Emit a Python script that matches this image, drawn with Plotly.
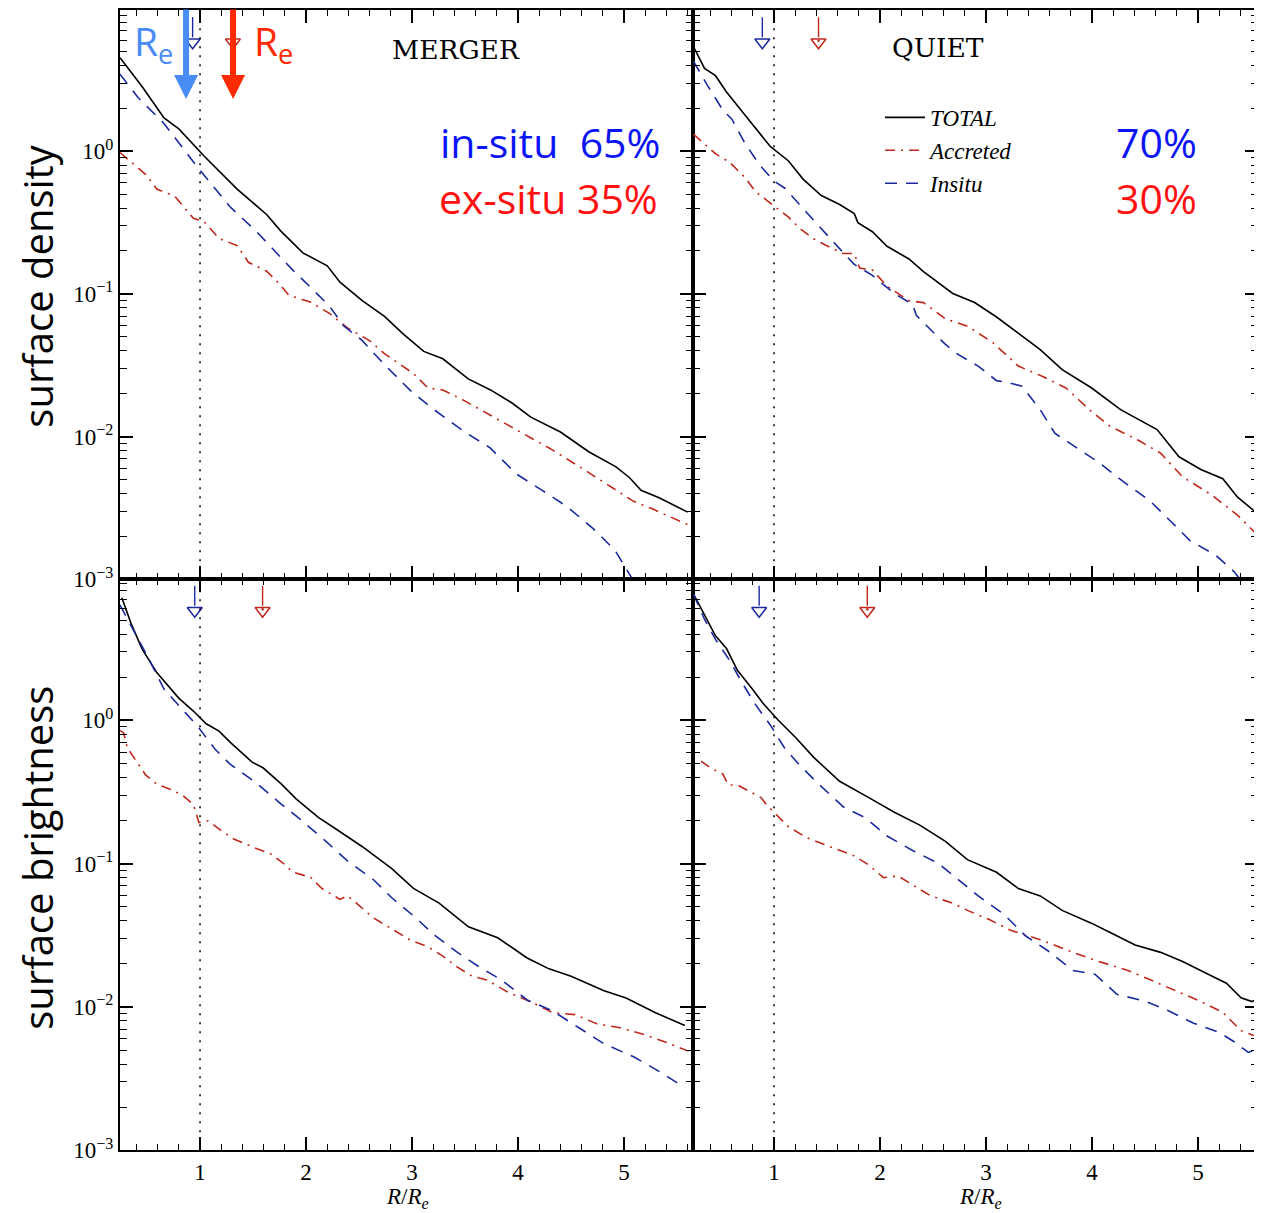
import numpy as np
import plotly.graph_objects as go

# ---------------- DATA (log10 of profile values) ----------------
# MERGER - surface density
md_tot_x = [0.245,0.453,0.66,0.80,1.04,1.35,1.63,1.76,1.97,2.20,2.32,2.53,2.74,2.91,3.11,3.29,3.53,3.74,3.94,4.12,4.40,4.67,4.92,5.05,5.16,5.33,5.60]
md_tot_y = [0.656,0.454,0.234,0.157,-0.035,-0.265,-0.445,-0.558,-0.712,-0.803,-0.918,-1.047,-1.158,-1.277,-1.403,-1.455,-1.596,-1.673,-1.763,-1.864,-1.968,-2.108,-2.211,-2.287,-2.377,-2.429,-2.530]
md_ins_x = [0.245,0.415,0.66,0.989,1.285,1.526,1.66,1.868,2.045,2.217,2.356,2.528,2.736,2.978,3.186,3.497,3.736,3.981,4.224,4.462,4.708,4.915,5.02,5.12]
md_ins_y = [0.541,0.377,0.195,-0.124,-0.391,-0.558,-0.663,-0.828,-0.956,-1.082,-1.225,-1.326,-1.493,-1.673,-1.800,-1.968,-2.079,-2.261,-2.376,-2.491,-2.645,-2.798,-2.927,-3.05]
md_acc_x = [0.245,0.349,0.488,0.592,0.764,0.937,1.041,1.179,1.352,1.456,1.629,1.733,1.837,2.045,2.217,2.391,2.598,2.736,3.013,3.151,3.29,3.497,3.74,4.016,4.327,4.604,4.846,5.089,5.261,5.608]
md_acc_y = [-0.009,-0.073,-0.163,-0.265,-0.317,-0.470,-0.495,-0.611,-0.662,-0.778,-0.841,-0.918,-1.008,-1.059,-1.135,-1.238,-1.327,-1.417,-1.558,-1.660,-1.673,-1.750,-1.852,-1.967,-2.095,-2.223,-2.338,-2.454,-2.505,-2.620]

# QUIET - surface density
qd_tot_x = [0.24,0.345,0.448,0.552,0.758,0.965,1.137,1.274,1.446,1.619,1.757,1.791,1.928,2.066,2.273,2.410,2.686,2.892,3.099,3.305,3.511,3.718,3.993,4.269,4.613,4.820,5.026,5.233,5.370,5.576]
qd_tot_y = [0.734,0.581,0.530,0.416,0.225,0.034,-0.068,-0.195,-0.310,-0.373,-0.437,-0.500,-0.564,-0.666,-0.755,-0.844,-0.997,-1.060,-1.162,-1.277,-1.391,-1.531,-1.658,-1.811,-1.951,-2.142,-2.231,-2.296,-2.423,-2.550]
qd_ins_x = [0.24,0.379,0.517,0.603,0.724,0.861,0.999,1.103,1.240,1.377,1.550,1.757,1.928,2.135,2.307,2.342,2.444,2.617,2.720,2.926,3.099,3.202,3.340,3.511,3.649,3.856,4.062,4.304,4.544,4.751,4.923,5.164,5.336,5.45]
qd_ins_y = [0.632,0.454,0.289,0.225,0.059,-0.093,-0.208,-0.259,-0.373,-0.488,-0.628,-0.793,-0.870,-0.997,-1.073,-1.150,-1.226,-1.354,-1.417,-1.506,-1.608,-1.621,-1.647,-1.812,-1.977,-2.080,-2.181,-2.321,-2.449,-2.601,-2.729,-2.831,-2.945,-3.05]
qd_acc_x = [0.24,0.311,0.448,0.586,0.724,0.827,0.999,1.137,1.240,1.377,1.508,1.653,1.757,1.808,1.928,2.066,2.273,2.410,2.617,2.824,3.064,3.305,3.546,3.753,3.993,4.166,4.441,4.647,4.854,5.129,5.370,5.576]
qd_acc_y = [0.12,0.073,-0.017,-0.080,-0.182,-0.284,-0.386,-0.462,-0.539,-0.615,-0.666,-0.717,-0.717,-0.819,-0.832,-0.946,-1.048,-1.061,-1.175,-1.226,-1.341,-1.506,-1.583,-1.659,-1.824,-1.926,-2.028,-2.117,-2.283,-2.410,-2.550,-2.703]

# MERGER - surface brightness
mb_tot_x = [0.262,0.349,0.453,0.592,0.799,0.937,1.058,1.179,1.283,1.491,1.594,1.768,1.906,2.113,2.321,2.528,2.667,2.806,3.013,3.255,3.532,3.808,4.085,4.292,4.5,4.811,5.019,5.296,5.573]
mb_tot_y = [0.856,0.677,0.499,0.333,0.155,0.065,-0.024,-0.075,-0.152,-0.292,-0.331,-0.445,-0.548,-0.675,-0.777,-0.880,-0.956,-1.033,-1.173,-1.275,-1.441,-1.517,-1.658,-1.734,-1.785,-1.887,-1.938,-2.040,-2.129]
mb_ins_x = [0.245,0.384,0.522,0.660,0.799,0.972,1.144,1.283,1.525,1.768,1.941,2.183,2.391,2.632,2.806,3.013,3.221,3.428,3.636,3.843,4.085,4.327,4.570,4.811,5.089,5.330,5.573]
mb_ins_y = [0.805,0.614,0.422,0.218,0.103,-0.037,-0.203,-0.305,-0.433,-0.586,-0.688,-0.841,-0.981,-1.109,-1.236,-1.364,-1.504,-1.619,-1.722,-1.811,-1.951,-2.028,-2.143,-2.257,-2.347,-2.449,-2.564]
mb_acc_x = [0.245,0.280,0.314,0.384,0.488,0.592,0.729,0.833,0.937,0.989,1.075,1.214,1.318,1.525,1.663,1.802,1.871,2.044,2.148,2.321,2.391,2.494,2.632,2.806,2.978,3.151,3.290,3.428,3.566,3.705,3.912,4.120,4.327,4.535,4.742,4.950,5.192,5.434,5.608]
mb_acc_y = [-0.07,-0.088,-0.191,-0.267,-0.382,-0.445,-0.484,-0.522,-0.586,-0.713,-0.701,-0.777,-0.828,-0.892,-0.930,-1.007,-1.058,-1.096,-1.173,-1.249,-1.224,-1.287,-1.377,-1.454,-1.531,-1.581,-1.645,-1.722,-1.785,-1.811,-1.900,-1.964,-2.040,-2.053,-2.117,-2.143,-2.193,-2.257,-2.308]

# QUIET - surface brightness
qb_tot_x = [0.24,0.345,0.448,0.552,0.655,0.792,0.896,1.034,1.206,1.377,1.619,1.894,2.135,2.375,2.617,2.824,3.099,3.305,3.511,3.718,3.993,4.166,4.406,4.647,4.854,5.095,5.267,5.405,5.508,5.57]
qb_tot_y = [0.882,0.730,0.590,0.501,0.349,0.222,0.120,0.006,-0.121,-0.260,-0.425,-0.539,-0.641,-0.731,-0.844,-0.972,-1.060,-1.174,-1.225,-1.326,-1.415,-1.479,-1.568,-1.619,-1.682,-1.771,-1.834,-1.936,-1.962,-1.94]
qb_ins_x = [0.24,0.345,0.448,0.586,0.690,0.827,0.965,1.103,1.240,1.412,1.653,1.859,2.066,2.307,2.548,2.755,2.926,3.167,3.374,3.580,3.821,4.027,4.234,4.509,4.716,4.958,5.198,5.336,5.474,5.57]
qb_ins_y = [0.882,0.704,0.565,0.413,0.273,0.108,-0.032,-0.197,-0.311,-0.438,-0.603,-0.679,-0.807,-0.908,-0.997,-1.124,-1.225,-1.352,-1.505,-1.606,-1.746,-1.771,-1.911,-1.962,-2.025,-2.113,-2.177,-2.241,-2.317,-2.292]
qb_acc_x = [0.311,0.414,0.517,0.569,0.655,0.758,0.878,0.930,0.999,1.137,1.308,1.481,1.619,1.757,1.894,2.032,2.170,2.342,2.479,2.686,2.824,3.030,3.236,3.511,3.821,4.062,4.338,4.544,4.786,5.026,5.233,5.405,5.542]
qb_acc_y = [-0.285,-0.337,-0.374,-0.451,-0.451,-0.489,-0.539,-0.590,-0.641,-0.743,-0.819,-0.870,-0.908,-0.946,-1.009,-1.098,-1.086,-1.162,-1.225,-1.276,-1.326,-1.390,-1.466,-1.530,-1.619,-1.682,-1.745,-1.809,-1.885,-1.962,-2.038,-2.165,-2.203]

# half-light radii markers (R/Re) for in-situ and accreted: [MERGER dens, QUIET dens, MERGER bright, QUIET bright]
re_insitu = [0.93, 0.89, 0.95, 0.86]
re_accreted = [1.31, 1.42, 1.59, 1.88]

panel_titles = ["MERGER", "QUIET"]
y_tick_vals = [1e-3, 1e-2, 1e-1, 1.0]
y_tick_text = ["10<sup>−3</sup>", "10<sup>−2</sup>", "10<sup>−1</sup>", "10<sup>0</sup>"]
x_tick_vals = [1, 2, 3, 4, 5]

# ---------------- STYLE ----------------
BLACK = "#000000"
RED = "#c0281c"
BLUE = "#1a2a9e"
SERIF = "Liberation Serif"
SANS = "Open Sans"

# page body has an 8px default margin; observed vertical photo scale ~0.99
W, H = 1254, 1213
OFF = 8
VS = 0.99


def px(X):
    return (X - OFF) / W


def py(Y):
    return 1 - (Y / VS - OFF) / H


panels = [
    ("x", "y", md_tot_x, md_tot_y, md_acc_x, md_acc_y, md_ins_x, md_ins_y),
    ("x2", "y2", qd_tot_x, qd_tot_y, qd_acc_x, qd_acc_y, qd_ins_x, qd_ins_y),
    ("x3", "y3", mb_tot_x, mb_tot_y, mb_acc_x, mb_acc_y, mb_ins_x, mb_ins_y),
    ("x4", "y4", qb_tot_x, qb_tot_y, qb_acc_x, qb_acc_y, qb_ins_x, qb_ins_y),
]

fig = go.Figure()
for i, (xa, ya, tx, ty, ax_, ay_, ix, iy) in enumerate(panels):
    show = (i == 1)
    fig.add_trace(go.Scatter(x=tx, y=10 ** np.array(ty), mode="lines", name="TOTAL",
                             line=dict(color=BLACK, width=1.6), xaxis=xa, yaxis=ya,
                             showlegend=show, legendgroup="t", hoverinfo="skip"))
    fig.add_trace(go.Scatter(x=ax_, y=10 ** np.array(ay_), mode="lines", name="Accreted",
                             line=dict(color=RED, width=1.6, dash="10px,6px,2px,6px"), xaxis=xa, yaxis=ya,
                             showlegend=show, legendgroup="a", hoverinfo="skip"))
    fig.add_trace(go.Scatter(x=ix, y=10 ** np.array(iy), mode="lines", name="Insitu",
                             line=dict(color=BLUE, width=1.6, dash="12px,9px"), xaxis=xa, yaxis=ya,
                             showlegend=show, legendgroup="i", hoverinfo="skip"))
    # Re markers
    for rv, col, dot in ((re_insitu[i], BLUE, False), (re_accreted[i], RED, True)):
        fig.add_trace(go.Scatter(x=[rv, rv], y=[10 ** 0.94, 10 ** 0.80], mode="lines",
                                 line=dict(color=col, width=1.4), xaxis=xa, yaxis=ya,
                                 showlegend=False, hoverinfo="skip"))
        fig.add_trace(go.Scatter(x=[rv], y=[10 ** 0.765], mode="markers",
                                 marker=dict(symbol="triangle-down-open", size=13, color=col,
                                             line=dict(width=1.5, color=col)),
                                 xaxis=xa, yaxis=ya, showlegend=False, hoverinfo="skip"))
        if dot:
            fig.add_trace(go.Scatter(x=[rv], y=[10 ** 0.775], mode="markers",
                                     marker=dict(symbol="circle", size=2.5, color=col),
                                     xaxis=xa, yaxis=ya, showlegend=False, hoverinfo="skip"))
    # dotted line at R = Re
    fig.add_shape(type="line", xref=xa, yref=ya + " domain", x0=1, x1=1, y0=0, y1=1,
                  line=dict(color=BLACK, width=1.5, dash="2px,7px"))

xL = [px(120), px(693)]
xR = [px(693), px(1258)]
yT = [py(579), py(9)]
yB = [py(1151), py(579)]

minor_y = [m * 10 ** k for k in (-3, -2, -1, 0) for m in range(2, 10)]


def xaxis(domain, rng, anchor, labels):
    return dict(domain=domain, range=rng, anchor=anchor, showline=True, linecolor=BLACK, linewidth=2,
                mirror="allticks", ticks="inside", ticklen=13, tickwidth=1.5, tickcolor=BLACK,
                tickvals=x_tick_vals, showticklabels=labels,
                tickfont=dict(family=SERIF, size=23, color=BLACK),
                minor=dict(dtick=0.2, tick0=0, ticks="inside", ticklen=6, tickwidth=1.2, tickcolor=BLACK),
                showgrid=False, zeroline=False)


def yaxis(domain, rng, anchor, labels):
    return dict(domain=domain, range=rng, anchor=anchor, type="log", showline=True, linecolor=BLACK,
                linewidth=2, mirror="allticks", ticks="inside", ticklen=13, tickwidth=1.5, tickcolor=BLACK,
                tickvals=y_tick_vals, ticktext=y_tick_text, showticklabels=labels,
                tickfont=dict(family=SERIF, size=23, color=BLACK),
                minor=dict(tickvals=minor_y, ticks="inside", ticklen=7, tickwidth=1.2, tickcolor=BLACK),
                showgrid=False, zeroline=False)


fig.update_layout(
    width=W, height=H, autosize=False,
    margin=dict(l=0, r=0, t=0, b=0),
    paper_bgcolor="white", plot_bgcolor="white",
    xaxis=xaxis(xL, [0.245, 5.65], "y", False),
    yaxis=yaxis(yT, [-3, 0.99], "x", True),
    xaxis2=xaxis(xR, [0.236, 5.565], "y2", False),
    yaxis2=yaxis(yT, [-3, 0.99], "x2", False),
    xaxis3=xaxis(xL, [0.245, 5.65], "y3", True),
    yaxis3=yaxis(yB, [-3, 0.985], "x3", True),
    xaxis4=xaxis(xR, [0.236, 5.565], "y4", True),
    yaxis4=yaxis(yB, [-3, 0.985], "x4", False),
    showlegend=True,
    legend=dict(x=px(880), y=py(95), xanchor="left", yanchor="top",
                bgcolor="rgba(0,0,0,0)", font=dict(family=SERIF, size=23, color=BLACK, style="italic"),
                tracegroupgap=0, itemwidth=40),
)


def note(text, X, Y, size, color, family=SANS, xanchor="center", **kw):
    return dict(text=text, x=px(X), y=py(Y), xref="paper", yref="paper", xanchor=xanchor,
                yanchor="middle", showarrow=False, font=dict(family=family, size=size, color=color), **kw)


ann = []
# panel titles
ann.append(note(panel_titles[0], 456, 48, 26.5, BLACK, family="DejaVu Serif"))
ann.append(note(panel_titles[1], 938, 46, 26.5, BLACK, family="DejaVu Serif"))
# fraction labels
BIGBLUE = "#0a14f5"
BIGRED = "#ff1010"
ann.append(note("in-situ\u00a0\u00a065%", 662, 141, 41, BIGBLUE, xanchor="right"))
ann.append(note("ex-situ 35%", 660, 197, 41, BIGRED, xanchor="right"))
ann.append(note("70%", 1199, 141, 41, BIGBLUE, xanchor="right"))
ann.append(note("30%", 1199, 197, 41, BIGRED, xanchor="right"))
# R_e labels and arrows
ann.append(note("R<sub>e</sub>", 132, 42, 39, "#4a8cf6", xanchor="left"))
ann.append(note("R<sub>e</sub>", 252, 42, 39, "#ff2a00", xanchor="left"))
for X, col in ((186, "#4a8cf6"), (233, "#ff2a00")):
    ann.append(dict(text="", x=(X - 94) / 106, y=py(98), xref="x", yref="paper",
                    showarrow=True, ax=0, ay=-92, arrowcolor=col, arrowwidth=6, arrowhead=2,
                    arrowsize=0.8, standoff=0))
# axis titles
ann.append(note("surface density", 38, 285, 40, BLACK, textangle=-90))
ann.append(note("surface brightness", 38, 858, 40, BLACK, textangle=-90))
for cx in (407, 980):
    ann.append(note("<i>R</i>/<i>R</i><sub><i>e</i></sub>", cx, 1199, 23, BLACK, family=SERIF))
fig.update_layout(annotations=ann)

fig.write_html("out.html")
